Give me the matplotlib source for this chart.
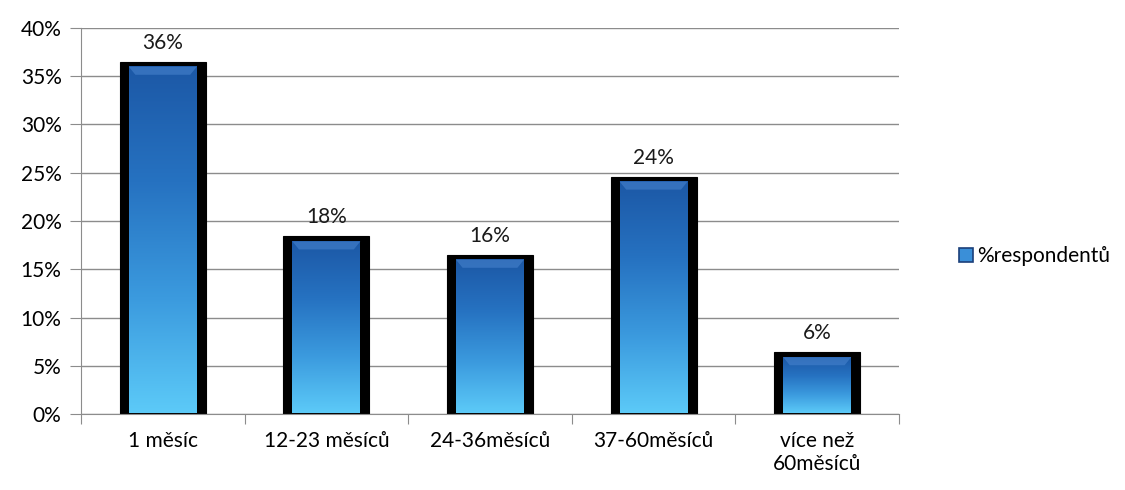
import numpy as np
import matplotlib
matplotlib.use("Agg")
import matplotlib.pyplot as plt
from matplotlib.colors import LinearSegmentedColormap
from matplotlib.patches import Rectangle

# --- data ---
categories = ["1 měsíc", "12-23 měsíců", "24-36měsíců", "37-60měsíců", "více než\n60měsíců"]
values = [36.5, 18.4, 16.5, 24.6, 6.4]
labels = ["36%", "18%", "16%", "24%", "6%"]
series_name = "%respondentů"
yticks = [0, 5, 10, 15, 20, 25, 30, 35, 40]

plt.rcParams['font.family'] = ['Lato', 'DejaVu Sans']
FS = 15

fig = plt.figure(figsize=(11.25, 4.9), dpi=100)
ax_l, ax_b, ax_w, ax_h = 81 / 1125, 76 / 490, 818 / 1125, 386 / 490
ax = fig.add_axes([ax_l, ax_b, ax_w, ax_h])

grad_cmap = LinearSegmentedColormap.from_list("bar", ["#5ccaf8", "#3b9ade", "#2672c1", "#1c58a6"])
grad = np.linspace(0, 1, 256).reshape(-1, 1)

x = np.arange(len(categories))
bw = 0.525
ax.bar(x, values, width=bw, color="black", edgecolor="black", lw=0.8, zorder=2)

# gradient inside each bar
px_x = ax_w * 1125 / 5.0        # pixels per category unit
px_y = ax_h * 490 / 40.0        # pixels per percent
ix = 9 / px_x
itop = 5 / px_y
ibot = 1 / px_y
bev = 8 / px_y
for xi, v in zip(x, values):
    x0, x1 = xi - bw / 2 + ix, xi + bw / 2 - ix
    ax.imshow(grad, cmap=grad_cmap, origin="lower", aspect="auto",
              extent=(x0, x1, ibot, v - itop), zorder=3, interpolation="bicubic")
    # light bevel on top
    ax.fill([x0, x1, x1 - 0.04, x0 + 0.04],
            [v - itop, v - itop, v - itop - bev, v - itop - bev],
            color="#4a86d0", alpha=0.55, zorder=4, lw=0)

for xi, v, lab in zip(x, values, labels):
    ax.text(xi, v + 13 / px_y, lab, ha="center", va="baseline", fontsize=FS, color="#1a1a1a")

ax.set_xlim(-0.5, len(categories) - 0.5)
ax.set_ylim(0, 40)
ax.set_yticks(yticks)
ax.set_yticklabels([f"{t}%" for t in yticks], fontsize=FS)
ax.grid(axis="y", color="#8c8c8c", lw=1, zorder=0)
ax.set_axisbelow(True)

ax.set_xticks(np.arange(len(categories) + 1) - 0.5)
ax.set_xticklabels([])
ax.set_xticks(x, minor=True)
ax.set_xticklabels(categories, minor=True, fontsize=FS)
ax.tick_params(axis="x", which="minor", length=0, pad=12)
ax.tick_params(axis="x", which="major", length=7, color="#8c8c8c")
ax.tick_params(axis="y", length=8, color="#8c8c8c", pad=6)

for s in ["top", "right"]:
    ax.spines[s].set_visible(False)
for s in ["left", "bottom"]:
    ax.spines[s].set_color("#8c8c8c")

handle = Rectangle((0, 0), 1, 1, facecolor="#3a8fd8", edgecolor="#1b3f7a", lw=1.2)
fig.legend([handle], [series_name], loc="center left", bbox_to_anchor=(0.843, 0.477),
           frameon=False, fontsize=FS, handlelength=0.7, handleheight=0.7, handletextpad=0.2,
           borderpad=0)

fig.savefig("out.png", dpi=100)
